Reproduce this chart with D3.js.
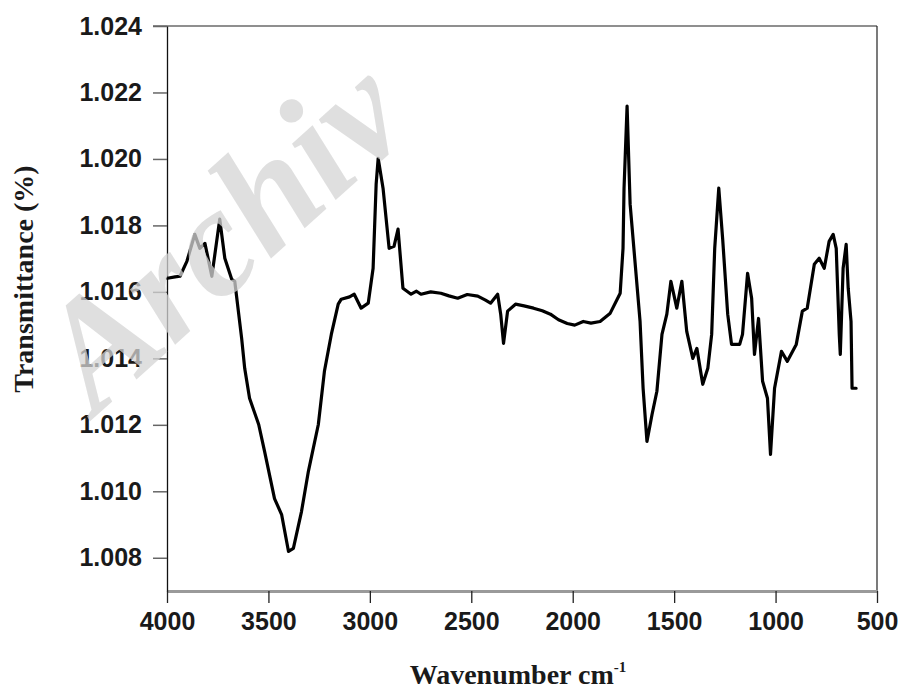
<!DOCTYPE html>
<html>
<head>
<meta charset="utf-8">
<script src="https://cdn.jsdelivr.net/npm/d3@7"></script>
<style>
  html, body { margin: 0; padding: 0; background: #fff; }
  svg { display: block; }
</style>
</head>
<body>
<svg id="chart" width="900" height="690"></svg>
<script>
// ---- data ----
const wavenumber = [3998,3960,3936,3902,3863,3838,3813,3779,3740,3715,3681,3666,3632,3617,3593,3548,3519,3470,3435,3401,3377,3337,3303,3254,3224,3190,3156,3141,3100,3077,3043,3008,2984,2969,2959,2935,2905,2881,2861,2837,2797,2770,2748,2700,2650,2610,2567,2520,2468,2430,2405,2370,2355,2341,2321,2282,2240,2193,2150,2110,2070,2027,1990,1948,1910,1865,1815,1766,1752,1747,1732,1717,1668,1653,1634,1609,1585,1560,1536,1516,1487,1462,1438,1408,1388,1359,1334,1315,1300,1280,1261,1236,1217,1177,1163,1138,1118,1104,1084,1064,1040,1025,1005,971,942,898,868,844,809,785,760,736,716,701,686,681,667,652,642,628,623,603];
const transmittance = [1.01641,1.01645,1.01647,1.01692,1.01773,1.01731,1.01746,1.01647,1.01819,1.01701,1.01638,1.01632,1.01460,1.01370,1.01280,1.01201,1.01120,1.00978,1.00930,1.00819,1.00828,1.00939,1.01060,1.01201,1.01361,1.01472,1.01563,1.01578,1.01585,1.01593,1.01551,1.01566,1.01671,1.01924,1.02002,1.01912,1.01731,1.01737,1.01789,1.01611,1.01593,1.01602,1.01593,1.01600,1.01596,1.01588,1.01581,1.01592,1.01587,1.01575,1.01566,1.01593,1.01533,1.01445,1.01542,1.01563,1.01558,1.01551,1.01543,1.01533,1.01516,1.01505,1.01500,1.01511,1.01506,1.01511,1.01536,1.01596,1.01731,1.01912,1.02159,1.01864,1.01511,1.01310,1.01150,1.01231,1.01301,1.01472,1.01533,1.01632,1.01551,1.01632,1.01481,1.01400,1.01430,1.01322,1.01370,1.01472,1.01731,1.01912,1.01761,1.01533,1.01442,1.01442,1.01472,1.01656,1.01581,1.01412,1.01520,1.01331,1.01280,1.01111,1.01310,1.01421,1.01391,1.01442,1.01542,1.01551,1.01683,1.01701,1.01671,1.01752,1.01773,1.01731,1.01472,1.01412,1.01671,1.01743,1.01611,1.01511,1.01310,1.01310];
const xTicks = [4000,3500,3000,2500,2000,1500,1000,500];
const yTicks = [1.008,1.010,1.012,1.014,1.016,1.018,1.020,1.022,1.024];
const xTitle = "Wavenumber cm";
const xTitleSup = "-1";
const yTitle = "Transmittance (%)";
const watermark = "Archiv";

// ---- layout ----
const W = 900, H = 690;
const m = {left: 167, top: 26, right: 23, bottom: 99};
const iw = W - m.left - m.right, ih = H - m.top - m.bottom;

const svg = d3.select("#chart");
const g = svg.append("g").attr("transform", `translate(${m.left},${m.top})`);

const x = d3.scaleLinear().domain([4000, 500]).range([0, iw]);
const y = d3.scaleLinear().domain([1.007, 1.024]).range([ih, 0]);

// frame: top (gray) and right (black)
g.append("line").attr("x1", -14).attr("x2", iw).attr("y1", 0).attr("y2", 0)
  .attr("stroke", "#8f8f8f").attr("stroke-width", 2);
g.append("line").attr("x1", iw).attr("x2", iw).attr("y1", 0).attr("y2", ih)
  .attr("stroke", "#222").attr("stroke-width", 1.2);

// axes
const xAxis = g.append("g").attr("transform", `translate(0,${ih})`)
  .call(d3.axisBottom(x).tickValues(xTicks).tickFormat(d3.format("d")).tickSize(12).tickPadding(9).tickSizeOuter(0));
const yAxis = g.append("g")
  .call(d3.axisLeft(y).tickValues(yTicks).tickFormat(d3.format(".3f")).tickSize(14).tickPadding(11).tickSizeOuter(0));

xAxis.select(".domain").attr("stroke", "#9a9a9a").attr("stroke-width", 3);
yAxis.select(".domain").attr("stroke", "#111").attr("stroke-width", 1.3);
xAxis.selectAll(".tick line").attr("stroke", "#222").attr("stroke-width", 1.3);
yAxis.selectAll(".tick line").attr("stroke", "#666").attr("stroke-width", 1.5);
[xAxis, yAxis].forEach(a => a.selectAll(".tick text")
  .attr("font-family", "'Liberation Sans', Arial, sans-serif")
  .attr("font-weight", "bold")
  .attr("font-size", 25)
  .attr("fill", "#1a1a1a"));

// watermark (semi-transparent, over the labels, under the curve)
svg.append("text")
  .attr("transform", "translate(96,416) rotate(-42)")
  .attr("font-family", "'Liberation Serif', 'DejaVu Serif', serif")
  .attr("font-style", "italic")
  .attr("font-weight", "bold")
  .attr("font-size", 155)
  .attr("fill", "#d4d4d4")
  .attr("fill-opacity", 0.75)
  .text(watermark);

// the spectrum
const pts = wavenumber.map((w, i) => [w, transmittance[i]]);
g.append("path")
  .datum(pts)
  .attr("fill", "none")
  .attr("stroke", "#000")
  .attr("stroke-width", 3.2)
  .attr("stroke-linejoin", "round")
  .attr("stroke-linecap", "round")
  .attr("d", d3.line().x(d => x(d[0])).y(d => y(d[1])));

// axis titles
const xt = svg.append("text")
  .attr("x", m.left + iw / 2 - 4).attr("y", 684)
  .attr("text-anchor", "middle")
  .attr("font-family", "'Liberation Serif', 'Times New Roman', serif")
  .attr("font-weight", "bold")
  .attr("font-size", 28)
  .attr("fill", "#1a1a1a");
xt.append("tspan").text(xTitle);
xt.append("tspan").attr("dy", -12).attr("font-size", 15).text(xTitleSup);

svg.append("text")
  .attr("transform", `translate(33,279) rotate(-90)`)
  .attr("text-anchor", "middle")
  .attr("font-family", "'Liberation Serif', 'Times New Roman', serif")
  .attr("font-weight", "bold")
  .attr("font-size", 28)
  .attr("fill", "#1a1a1a")
  .text(yTitle);
</script>
</body>
</html>
